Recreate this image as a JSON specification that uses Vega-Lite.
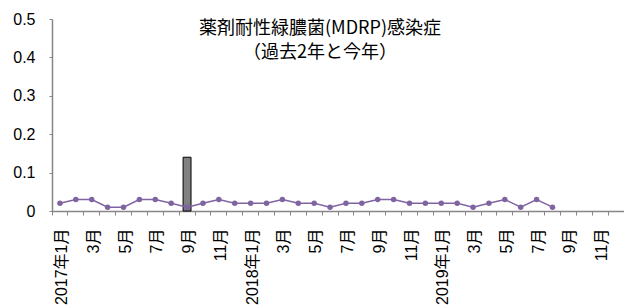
{
  "$schema": "https://vega.github.io/schema/vega-lite/v6.json",
  "autosize": {"type": "none"},
  "padding": {"left": 52, "top": 19, "right": 0, "bottom": 96},
  "width": 572,
  "height": 192,
  "background": "white",
  "title": {
    "text": ["薬剤耐性緑膿菌(MDRP)感染症", "（過去2年と今年）"],
    "font": "Noto Sans CJK JP",
    "fontSize": 18,
    "fontWeight": "normal",
    "color": "#000000",
    "anchor": "middle",
    "baseline": "top",
    "offset": -51,
    "dx": -18,
    "lineHeight": 24
  },
  "config": {
    "view": {"stroke": null},
    "axis": {
      "labelFont": "Liberation Sans, Noto Sans CJK JP",
      "labelColor": "#000000",
      "domainColor": "#868686",
      "tickColor": "#868686",
      "grid": false,
      "title": null
    }
  },
  "data": {
    "values": [
      {"month": "2017-01", "line": 0.02},
      {"month": "2017-02", "line": 0.03},
      {"month": "2017-03", "line": 0.03},
      {"month": "2017-04", "line": 0.01},
      {"month": "2017-05", "line": 0.01},
      {"month": "2017-06", "line": 0.03},
      {"month": "2017-07", "line": 0.03},
      {"month": "2017-08", "line": 0.02},
      {"month": "2017-09", "line": 0.01, "bar": 0.14},
      {"month": "2017-10", "line": 0.02},
      {"month": "2017-11", "line": 0.03},
      {"month": "2017-12", "line": 0.02},
      {"month": "2018-01", "line": 0.02},
      {"month": "2018-02", "line": 0.02},
      {"month": "2018-03", "line": 0.03},
      {"month": "2018-04", "line": 0.02},
      {"month": "2018-05", "line": 0.02},
      {"month": "2018-06", "line": 0.01},
      {"month": "2018-07", "line": 0.02},
      {"month": "2018-08", "line": 0.02},
      {"month": "2018-09", "line": 0.03},
      {"month": "2018-10", "line": 0.03},
      {"month": "2018-11", "line": 0.02},
      {"month": "2018-12", "line": 0.02},
      {"month": "2019-01", "line": 0.02},
      {"month": "2019-02", "line": 0.02},
      {"month": "2019-03", "line": 0.01},
      {"month": "2019-04", "line": 0.02},
      {"month": "2019-05", "line": 0.03},
      {"month": "2019-06", "line": 0.01},
      {"month": "2019-07", "line": 0.03},
      {"month": "2019-08", "line": 0.01},
      {"month": "2019-09"},
      {"month": "2019-10"},
      {"month": "2019-11"},
      {"month": "2019-12"}
    ]
  },
  "resolve": {"axis": {"x": "independent"}},
  "layer": [
    {
      "mark": {"type": "bar", "fill": "#808080", "stroke": "#000000", "strokeWidth": 1, "width": {"band": 0.5}},
      "encoding": {
        "x": {
          "field": "month",
          "type": "ordinal",
          "sort": null,
          "scale": {
            "domain": ["2017-01","2017-02","2017-03","2017-04","2017-05","2017-06","2017-07","2017-08","2017-09","2017-10","2017-11","2017-12","2018-01","2018-02","2018-03","2018-04","2018-05","2018-06","2018-07","2018-08","2018-09","2018-10","2018-11","2018-12","2019-01","2019-02","2019-03","2019-04","2019-05","2019-06","2019-07","2019-08","2019-09","2019-10","2019-11","2019-12"],
            "paddingInner": 0,
            "paddingOuter": 0
          },
          "axis": {
            "orient": "bottom",
            "labels": false,
            "ticks": true,
            "tickSize": 4,
            "bandPosition": 0,
            "domain": true,
            "domainWidth": 1.5
          }
        },
        "y": {
          "field": "bar",
          "type": "quantitative",
          "scale": {"domain": [0, 0.5], "nice": false},
          "axis": {
            "values": [0, 0.1, 0.2, 0.3, 0.4, 0.5],
            "format": ".1~f",
            "labelFontSize": 16,
            "tickSize": 3,
            "labelPadding": 14,
            "domainWidth": 1.5
          }
        }
      }
    },
    {
      "mark": {"type": "line", "color": "#8064A2", "strokeWidth": 1.5, "point": {"filled": true, "size": 30, "color": "#8064A2"}},
      "encoding": {
        "x": {
          "field": "month",
          "type": "ordinal",
          "sort": null,
          "axis": {
            "orient": "bottom",
            "ticks": false,
            "tickSize": 0,
            "domain": false,
            "labelAngle": -90,
            "labelAlign": "right",
            "labelBaseline": "middle",
            "labelPadding": 17,
            "labelOffset": 2,
            "labelFontSize": 16,
            "labelOverlap": false,
            "labelExpr": "toNumber(substring(datum.value,5,7)) % 2 == 0 ? '' : (substring(datum.value,5,7) == '01' ? substring(datum.value,0,4) + '年1月' : toNumber(substring(datum.value,5,7)) + '月')"
          }
        },
        "y": {
          "field": "line",
          "type": "quantitative",
          "axis": {
            "values": [0, 0.1, 0.2, 0.3, 0.4, 0.5],
            "format": ".1~f",
            "labelFontSize": 16,
            "tickSize": 3,
            "labelPadding": 14,
            "domainWidth": 1.5
          }
        }
      }
    }
  ]
}
